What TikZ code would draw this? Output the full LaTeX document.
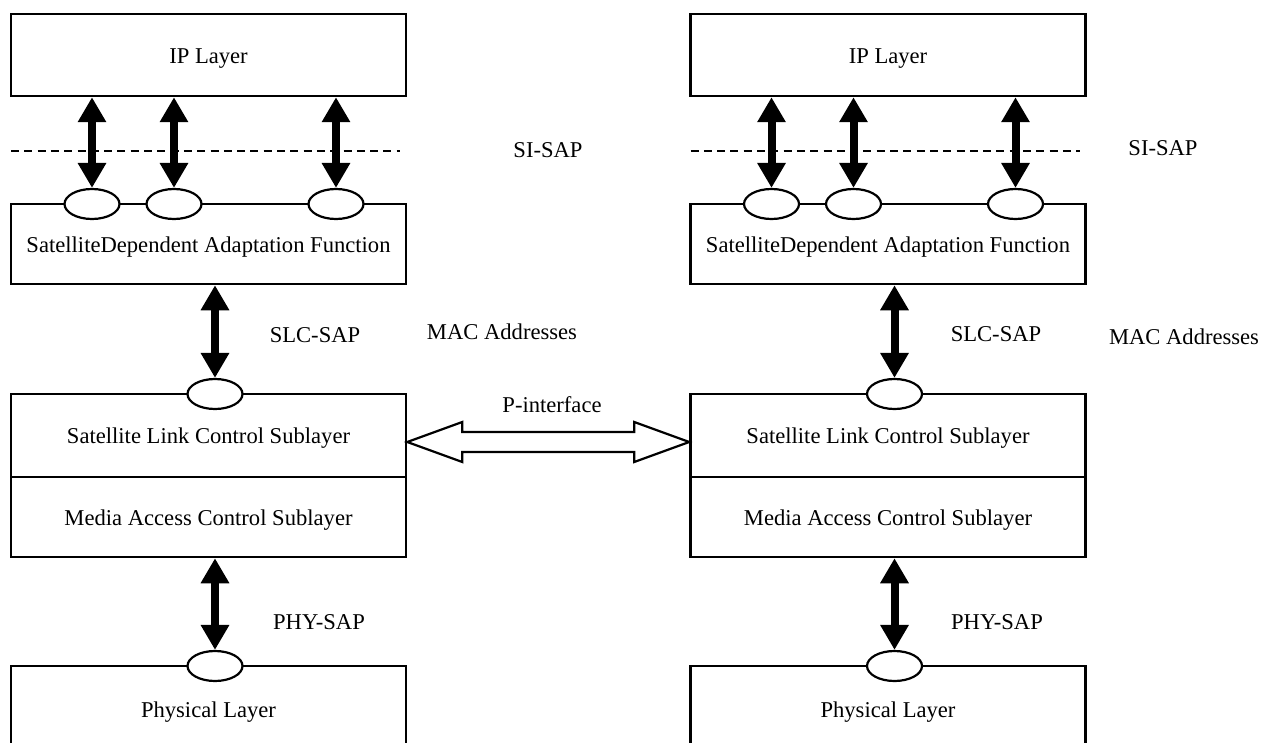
\documentclass[tikz,border=0pt]{standalone}
\usepackage{fontspec}
\setmainfont{Liberation Serif}
\usetikzlibrary{arrows.meta, shapes.geometric, positioning, calc}
\tikzset{
  layer/.style={draw, line width=1.25pt, fill=white, minimum width=197.5pt, inner sep=0pt,
    text height=0.84em, text depth=0pt},
  port/.style={draw, ellipse, fill=white, line width=1.1pt, minimum width=27.5pt, minimum height=15pt, inner sep=0pt},
  prim/.style={line width=4pt, {Triangle[width=13.5pt,length=12.5pt]}-{Triangle[width=13.5pt,length=12.5pt]}},
  sapline/.style={line width=1.4pt, dash pattern=on 4pt off 2.65pt},
  lbl/.style={inner sep=0pt},
}

\begin{document}
\begin{tikzpicture}[x=0.5pt, y=-0.5pt, font=\fontsize{11.3}{13}\selectfont]
\useasboundingbox (0,0) rectangle (1262,743);
\clip (0,0) rectangle (1262,743);
\foreach \s/\dx in {L/0, R/679.5} {
  \begin{scope}[xshift=\dx*0.5pt]
  % layer stack
  \node[layer, minimum height=41pt] at (208.5, 55) (ip\s) {IP Layer};
  \node[layer, minimum height=40pt] at (208.5, 244) (sdaf\s) {SatelliteDependent Adaptation Function};
  \node[layer, minimum height=41.5pt] at (208.5, 435.5) (slc\s) {Satellite Link Control Sublayer};
  \node[layer, minimum height=40pt] at (208.5, 517) (mac\s) {Media Access Control Sublayer};
  \node[layer, minimum height=43pt] at (208.5, 709) (phy\s) {Physical Layer};
  \draw[sapline] (11, 151) -- (400, 151);
  % service access points
  \node[port] at (92, 204) (si1\s) {};
  \node[port] at (174, 204) (si2\s) {};
  \node[port] at (336, 204) (si3\s) {};
  \node[port] at (215, 394) (slcp\s) {};
  \node[port] at (215, 666) (phyp\s) {};
  \draw[prim] (ip\s.south -| si1\s) -- (si1\s.north);
  \draw[prim] (ip\s.south -| si2\s) -- (si2\s.north);
  \draw[prim] (ip\s.south -| si3\s) -- (si3\s.north);
  \draw[prim] (sdaf\s.south -| slcp\s) -- (slcp\s.north);
  \draw[prim] (mac\s.south -| phyp\s) -- (phyp\s.north);
  \end{scope}
}
\node[lbl] at (548, 150) (sisapL) {SI-SAP};
\node[lbl] at (1163, 148) (sisapR) {SI-SAP};
\node[lbl] at (315, 335) (slcsapL) {SLC-SAP};
\node[lbl] at (996, 334) (slcsapR) {SLC-SAP};
\node[lbl] at (502, 332) (macaL) {MAC Addresses};
\node[lbl] at (1184, 337) (macaR) {MAC Addresses};
\node[lbl] at (319, 622) (physapL) {PHY-SAP};
\node[lbl] at (997, 622) (physapR) {PHY-SAP};
% P-interface
\coordinate (pl) at (slcL.east |- 0, 442);
\coordinate (pr) at (slcR.west |- 0, 442);
\draw[line width=1.1pt, fill=white] (pl) -- ++(55, -20) -- ++(0, 10) -- ($(pr)+(-55, -10)$)
  -- ++(0, -10) -- (pr) -- ++(-55, 20) -- ++(0, -10) -- ($(pl)+(55, 10)$) -- ++(0, 10) -- cycle;
\node[lbl] at (552, 405) (pif) {P-interface};
\end{tikzpicture}
\end{document}
